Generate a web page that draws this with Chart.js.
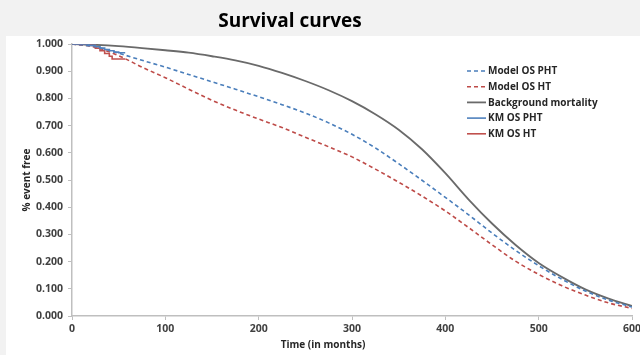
<!DOCTYPE html>
<html>
<head>
<meta charset="utf-8">
<script src="https://cdn.jsdelivr.net/npm/chart.js@4.4.1/dist/chart.umd.min.js"></script>
<style>
  html, body { margin: 0; padding: 0; background: #f2f2f2; }
  #wrap { position: relative; width: 640px; height: 355px; overflow: hidden; }
  #c { position: absolute; left: 0; top: 0; }
  #title { position: absolute; left: 140px; width: 300px; top: 7px; text-align: center;
           font: bold 19px "Open Sans", sans-serif; color: #000; line-height: 26px; }
</style>
</head>
<body>
<div id="wrap">
  <canvas id="c" width="640" height="355"></canvas>
  <div id="title">Survival curves</div>
</div>
<script>
// ---- data ----
const modelTimes = [0, 25, 50, 75, 100, 125, 150, 175, 200, 225, 250, 275, 300, 325, 350, 375, 400, 425, 450, 475, 500, 525, 550, 575, 600];
const modelOsPht = [1.000, 0.990, 0.966, 0.940, 0.915, 0.888, 0.861, 0.834, 0.806, 0.777, 0.746, 0.710, 0.668, 0.618, 0.560, 0.499, 0.436, 0.372, 0.305, 0.242, 0.185, 0.135, 0.092, 0.058, 0.033];
const modelOsHt  = [1.000, 0.988, 0.957, 0.915, 0.876, 0.834, 0.793, 0.757, 0.724, 0.693, 0.657, 0.622, 0.585, 0.540, 0.492, 0.441, 0.386, 0.325, 0.262, 0.202, 0.153, 0.111, 0.077, 0.048, 0.028];
const backgroundMortality = [1.000, 0.997, 0.992, 0.985, 0.977, 0.968, 0.955, 0.940, 0.920, 0.894, 0.864, 0.830, 0.790, 0.742, 0.685, 0.613, 0.525, 0.428, 0.340, 0.262, 0.195, 0.143, 0.098, 0.064, 0.037];

const kmPhtTimes = [0, 18, 25, 30, 35, 40, 45, 50, 57];
const kmOsPht    = [1.000, 0.995, 0.990, 0.985, 0.980, 0.975, 0.970, 0.968, 0.968];
const kmHtTimes  = [0, 20, 25, 30, 35, 40, 43, 57];
const kmOsHt     = [1.000, 0.995, 0.985, 0.975, 0.965, 0.955, 0.945, 0.945];

const xTickStep = 100;
const yTickStep = 0.1;
const seriesNames = ['Model OS PHT', 'Model OS HT', 'Background mortality', 'KM OS PHT', 'KM OS HT'];
const xAxisTitle = 'Time (in months)';
const yAxisTitle = '% event free';

const pts = (xs, ys) => xs.map((x, i) => ({ x: x, y: ys[i] }));

const BLUE = '#4a7ebb', RED = '#be4b48', GRAY = '#6a6a6a';
const AXIS = '#bfbfbf';
const FONT = '"Open Sans", sans-serif';

const bgPlugin = {
  id: 'bgPanel',
  beforeDraw(chart) {
    const ctx = chart.ctx;
    ctx.save();
    ctx.fillStyle = '#f2f2f2';
    ctx.fillRect(0, 0, chart.width, chart.height);
    ctx.fillStyle = '#ffffff';
    ctx.fillRect(6, 36, chart.width - 6, chart.height - 36);
    ctx.restore();
  }
};

const legendPlugin = {
  id: 'customLegend',
  afterDraw(chart) {
    const ctx = chart.ctx;
    ctx.save();
    ctx.font = 'bold 10px ' + FONT;
    ctx.textBaseline = 'middle';
    ctx.fillStyle = '#262626';
    chart.data.datasets.forEach((ds, i) => {
      const y = 71 + i * 15.7;
      ctx.strokeStyle = ds.borderColor;
      ctx.lineWidth = ds.borderWidth;
      ctx.setLineDash(ds.borderDash || []);
      ctx.beginPath();
      ctx.moveTo(467, y);
      ctx.lineTo(486, y);
      ctx.stroke();
      ctx.setLineDash([]);
      ctx.fillText(ds.label, 488, y + 0.5);
    });
    // x axis title
    ctx.textAlign = 'center';
    ctx.fillText(xAxisTitle, 323, 345);
    ctx.restore();
  }
};

new Chart(document.getElementById('c'), {
  type: 'line',
  data: {
    datasets: [
      { label: seriesNames[0], data: pts(modelTimes, modelOsPht), borderColor: BLUE, borderWidth: 1.6,
        borderDash: [4, 3], cubicInterpolationMode: 'monotone', order: 2 },
      { label: seriesNames[1], data: pts(modelTimes, modelOsHt), borderColor: RED, borderWidth: 1.6,
        borderDash: [4, 3], cubicInterpolationMode: 'monotone', order: 2 },
      { label: seriesNames[2], data: pts(modelTimes, backgroundMortality), borderColor: GRAY, borderWidth: 1.8,
        cubicInterpolationMode: 'monotone', order: 3 },
      { label: seriesNames[3], data: pts(kmPhtTimes, kmOsPht), borderColor: '#4f81bd', borderWidth: 1.6,
        stepped: 'before', order: 1 },
      { label: seriesNames[4], data: pts(kmHtTimes, kmOsHt), borderColor: '#c0504d', borderWidth: 1.6,
        stepped: 'before', order: 1 }
    ]
  },
  options: {
    responsive: false,
    animation: false,
    events: [],
    elements: { point: { radius: 0 } },
    layout: { padding: { top: 44, left: 0, right: 8, bottom: 4 } },
    plugins: { legend: { display: false }, title: { display: false }, tooltip: { enabled: false } },
    scales: {
      x: {
        type: 'linear', min: 0, max: 600,
        ticks: { stepSize: xTickStep, padding: 3, color: '#404040', font: { family: FONT, size: 10.5, weight: 'bold' }, maxRotation: 0 },
        grid: { drawOnChartArea: false, drawTicks: true, tickLength: 4, color: AXIS },
        border: { display: true, color: AXIS, width: 1.5 },
        title: { display: false },
        afterFit(scale) { scale.height = 35; scale.paddingRight = 0; scale.paddingLeft = 0; }
      },
      y: {
        type: 'linear', min: 0, max: 1,
        ticks: { stepSize: yTickStep, padding: 5, color: '#404040', font: { family: FONT, size: 10.5, weight: 'bold' },
                 callback: v => Number(v).toFixed(3) },
        grid: { drawOnChartArea: false, drawTicks: true, tickLength: 4, color: AXIS },
        border: { display: true, color: AXIS, width: 1.5 },
        title: { display: true, text: yAxisTitle, color: '#262626', padding: { top: 21, bottom: 0 },
                 font: { family: FONT, size: 10, weight: 'bold' } },
        afterFit(scale) { scale.width = 72; scale.paddingTop = 0; scale.paddingBottom = 0; }
      }
    }
  },
  plugins: [bgPlugin, legendPlugin]
});
</script>
</body>
</html>
